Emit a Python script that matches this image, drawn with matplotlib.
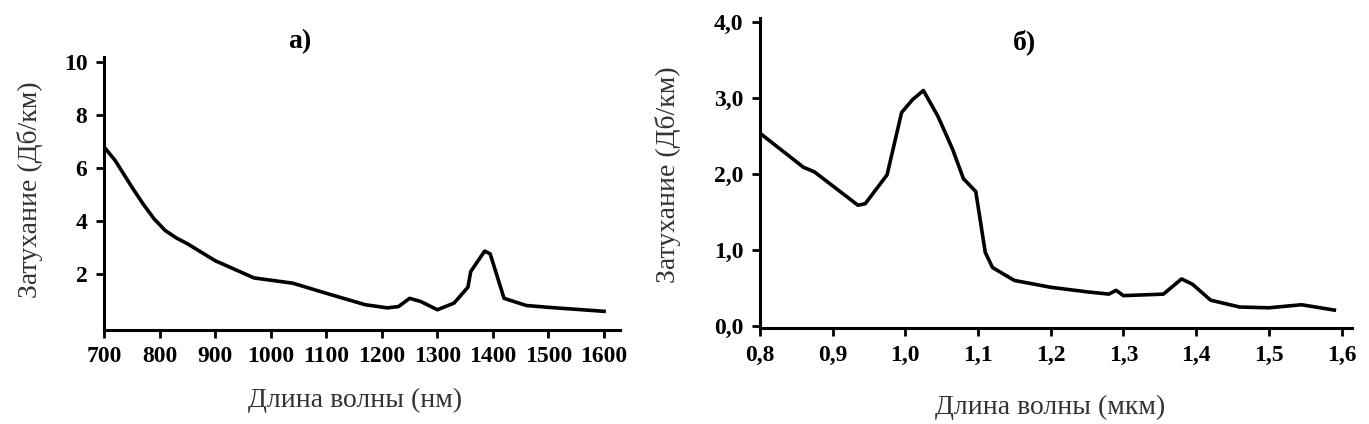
import matplotlib
matplotlib.use("Agg")
import matplotlib.pyplot as plt

# a) attenuation vs wavelength, nm
wl_nm = [700, 720, 750, 770, 790, 810, 830, 850, 900, 970, 1040, 1100, 1170,
         1210, 1230, 1250, 1270, 1300, 1330, 1355, 1360, 1385, 1395, 1420,
         1460, 1500, 1600]
att_a = [6.79, 6.28, 5.28, 4.65, 4.08, 3.64, 3.36, 3.14, 2.50, 1.85, 1.65,
         1.27, 0.84, 0.72, 0.77, 1.08, 0.96, 0.65, 0.90, 1.50, 2.09, 2.86,
         2.76, 1.08, 0.81, 0.74, 0.59]
xticks_a = [700, 800, 900, 1000, 1100, 1200, 1300, 1400, 1500, 1600]
yticks_a = [2, 4, 6, 8, 10]

# b) attenuation vs wavelength, um
wl_um = [0.80, 0.86, 0.875, 0.935, 0.945, 0.975, 0.995, 1.01, 1.025, 1.045,
         1.065, 1.08, 1.097, 1.11, 1.12, 1.15, 1.20, 1.25, 1.28, 1.29, 1.30,
         1.355, 1.38, 1.395, 1.42, 1.46, 1.50, 1.545, 1.59]
att_b = [2.54, 2.09, 2.03, 1.59, 1.61, 1.99, 2.81, 2.98, 3.10, 2.76,
         2.33, 1.94, 1.77, 0.97, 0.77, 0.60, 0.51, 0.45, 0.42, 0.47, 0.40,
         0.42, 0.62, 0.55, 0.34, 0.25, 0.24, 0.28, 0.21]
xticks_b = [0.8, 0.9, 1.0, 1.1, 1.2, 1.3, 1.4, 1.5, 1.6]
yticks_b = [0.0, 1.0, 2.0, 3.0, 4.0]

serif = ["Liberation Serif", "DejaVu Serif"]
plt.rcParams["font.family"] = serif

fig = plt.figure(figsize=(13.69, 4.24), dpi=100)
ax1 = fig.add_axes([0.076, 0.2226, 0.377, 0.644])
ax2 = fig.add_axes([0.555, 0.2257, 0.4324, 0.731])


def style_axes(ax):
    for s in ("top", "right"):
        ax.spines[s].set_visible(False)
    for s in ("left", "bottom"):
        ax.spines[s].set_linewidth(2.2)
    ax.tick_params(direction="out", length=6, width=2, labelsize=17, pad=6)
    for lab in ax.get_xticklabels() + ax.get_yticklabels():
        lab.set_fontweight("bold")


ax1.plot(wl_nm, att_a, color="black", lw=2.6)
ax1.set_xlim(700, 1629)
ax1.set_ylim(-0.1, 10.2)
ax1.set_xticks(xticks_a)
ax1.set_yticks(yticks_a)
ax1.set_xticklabels([str(v) for v in xticks_a])
ax1.set_yticklabels([str(v) for v in yticks_a])
style_axes(ax1)

ax2.plot(wl_um, att_b, color="black", lw=2.6)
ax2.set_xlim(0.8, 1.614)
ax2.set_ylim(-0.03, 4.05)
ax2.set_xticks(xticks_b)
ax2.set_yticks(yticks_b)
ax2.set_xticklabels([f"{v:.1f}".replace(".", ",") for v in xticks_b])
ax2.set_yticklabels([f"{v:.1f}".replace(".", ",") for v in yticks_b])
style_axes(ax2)

lab_color = "#333333"
fig.text(30 / 1369, 1 - 190 / 424, "Затухание (Дб/км)", rotation=90,
         ha="center", va="center", fontsize=20, color=lab_color)
fig.text(355 / 1369, 1 - 400 / 424, "Длина волны (нм)",
         ha="center", va="center", fontsize=20, color=lab_color)
fig.text(668 / 1369, 1 - 175 / 424, "Затухание (Дб/км)", rotation=90,
         ha="center", va="center", fontsize=20, color=lab_color)
fig.text(1050 / 1369, 1 - 407 / 424, "Длина волны (мкм)",
         ha="center", va="center", fontsize=20, color=lab_color)

fig.text(300 / 1369, 1 - 42 / 424, "а)", ha="center", va="center",
         fontsize=20, fontweight="bold")
fig.text(1025 / 1369, 1 - 42 / 424, "б)", ha="center", va="center",
         fontsize=20, fontweight="bold")

fig.savefig("out.png", dpi=100, facecolor="white")
